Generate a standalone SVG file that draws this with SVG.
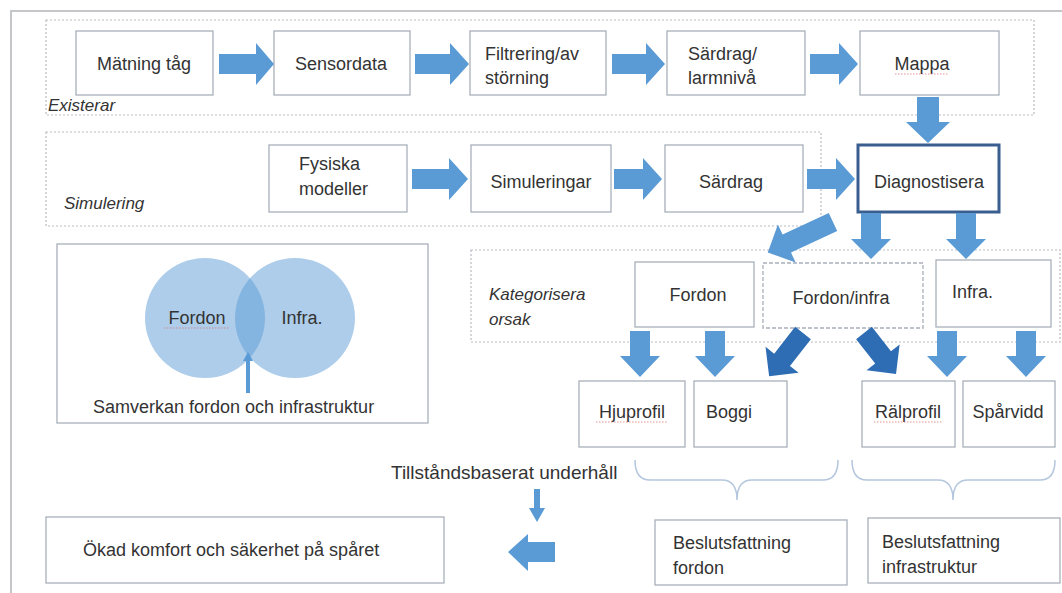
<svg xmlns="http://www.w3.org/2000/svg" width="1062" height="593" viewBox="0 0 1062 593">
<defs>
<style>
text{font-family:"Liberation Sans",Arial,sans-serif;font-size:18px;fill:#333}
.it{font-style:italic;font-size:17px}
.box{fill:#fff;stroke:#a9b0ba;stroke-width:1.3}
.dbox{fill:#fff;stroke:#a9b0ba;stroke-width:1.3;stroke-dasharray:4 2}
.grp{fill:none;stroke:#b8bcc2;stroke-width:1.2;stroke-dasharray:2 2}
.arr{fill:#5b9bd5}
.darr{fill:#2e6db4}
.brace{fill:none;stroke:#b4c6de;stroke-width:1.5}
.spell{stroke:#e06b6b;stroke-width:1.2;stroke-dasharray:1.5 1.5;opacity:.7}
.c{text-anchor:middle}
</style>
</defs>
<rect width="1062" height="593" fill="#fff"/>
<path d="M11,593 V11 H1062" fill="none" stroke="#c4c6c9" stroke-width="2"/>

<g id="groups">
<rect class="grp" x="46" y="20" width="988" height="95"/>
<text class="it" x="48" y="111">Existerar</text>
<rect class="grp" x="46" y="132" width="775" height="94"/>
<text class="it" x="64" y="209">Simulering</text>
<rect class="grp" x="471" y="250" width="589" height="92"/>
<text class="it" x="489" y="300">Kategorisera</text>
<text class="it" x="489" y="325">orsak</text>
</g>

<g id="n-matning"><rect class="box" x="76" y="31" width="137" height="64"/><text class="c" x="144" y="70">Mätning tåg</text></g>
<g id="n-sensordata"><rect class="box" x="274" y="31" width="136" height="64"/><text class="c" x="341" y="70">Sensordata</text></g>
<g id="n-filtrering"><rect class="box" x="470" y="31" width="136" height="64"/><text x="485" y="60">Filtrering/av</text><text x="485" y="84">störning</text></g>
<g id="n-sardrag1"><rect class="box" x="667" y="31" width="138" height="64"/><text x="688" y="60">Särdrag/</text><text x="688" y="84">larmnivå</text></g>
<g id="n-mappa"><rect class="box" x="860" y="31" width="139" height="64"/><text class="c" x="922" y="70">Mappa</text><line class="spell" x1="895" y1="74" x2="949" y2="74"/></g>

<g id="n-fysiska"><rect class="box" x="269" y="145" width="138" height="67"/><text x="299" y="170">Fysiska</text><text x="299" y="195">modeller</text></g>
<g id="n-simuleringar"><rect class="box" x="471" y="145" width="140" height="67"/><text class="c" x="541" y="188">Simuleringar</text></g>
<g id="n-sardrag2"><rect class="box" x="665" y="145" width="138" height="67"/><text class="c" x="731" y="188">Särdrag</text></g>
<g id="n-diagnostisera"><rect x="858" y="145" width="141" height="67" fill="#fff" stroke="#3a5e8f" stroke-width="3"/><text class="c" x="929" y="188">Diagnostisera</text></g>

<g id="n-venn">
<rect class="box" x="57" y="244" width="371" height="179"/>
<circle cx="205" cy="318" r="60" fill="#5b9bd5" fill-opacity="0.5"/>
<circle cx="295" cy="318" r="60" fill="#5b9bd5" fill-opacity="0.5"/>
<text class="c" x="197" y="324">Fordon</text>
<line class="spell" x1="164" y1="328" x2="230" y2="328"/>
<text class="c" x="302" y="324">Infra.</text>
<polygon class="arr" points="246,393 250,393 250,361 253,361 248,352 243,361 246,361"/>
<text x="93" y="413">Samverkan fordon och infrastruktur</text>
</g>

<g id="n-fordon"><rect class="box" x="635" y="262" width="119" height="65"/><text class="c" x="698" y="301">Fordon</text></g>
<g id="n-fordoninfra"><rect class="dbox" x="763" y="263" width="160" height="65"/><text class="c" x="841" y="304">Fordon/infra</text></g>
<g id="n-infra"><rect class="box" x="936" y="260" width="115" height="67"/><text x="952" y="298">Infra.</text></g>

<g id="n-hjuprofil"><rect class="box" x="579" y="381" width="106" height="66"/><text class="c" x="632" y="418">Hjuprofil</text><line class="spell" x1="596" y1="422" x2="668" y2="422"/></g>
<g id="n-boggi"><rect class="box" x="694" y="381" width="93" height="66"/><text x="706" y="418">Boggi</text></g>
<g id="n-ralprofil"><rect class="box" x="862" y="381" width="93" height="66"/><text class="c" x="908" y="418">Rälprofil</text><line class="spell" x1="874" y1="422" x2="942" y2="422"/></g>
<g id="n-sparvidd"><rect class="box" x="963" y="381" width="92" height="66"/><text class="c" x="1008" y="418">Spårvidd</text></g>

<g id="n-tillstand"><text x="391" y="479" style="font-size:19px">Tillståndsbaserat underhåll</text></g>
<g id="n-okad"><rect class="box" x="46" y="517" width="398" height="66"/><text x="83" y="556">Ökad komfort och säkerhet på spåret</text></g>
<g id="n-besl-fordon"><rect class="box" x="655" y="520" width="192" height="65"/><text x="673" y="549">Beslutsfattning</text><text x="673" y="574">fordon</text></g>
<g id="n-besl-infra"><rect class="box" x="868" y="518" width="192" height="65"/><text x="882" y="548">Beslutsfattning</text><text x="882" y="573">infrastruktur</text></g>

<g id="connectors">
<polygon class="arr" points="219,54 256,54 256,43 274,64 256,85 256,74 219,74"/>
<polygon class="arr" points="415,54 450,54 450,43 469,64 450,85 450,74 415,74"/>
<polygon class="arr" points="612,54 646,54 646,43 665,64 646,85 646,74 612,74"/>
<polygon class="arr" points="810,54 839,54 839,43 858,64 839,85 839,74 810,74"/>
<polygon class="arr" points="917,97 939,97 939,122 950,122 928,143 906,122 917,122"/>
<polygon class="arr" points="412,169 449,169 449,158 468,179 449,200 449,189 412,189"/>
<polygon class="arr" points="614,169 643,169 643,158 662,179 643,200 643,189 614,189"/>
<polygon class="arr" points="807,169 836,169 836,158 855,179 836,200 836,189 807,189"/>
<polygon class="arr" points="0,-10 51,-10 51,-21 72,0 51,21 51,10 0,10" transform="translate(833,222) rotate(155)"/>
<polygon class="arr" points="861,213 881,213 881,239 891,239 871,259 851,239 861,239"/>
<polygon class="arr" points="956,213 976,213 976,239 986,239 966,259 946,239 956,239"/>
<polygon class="arr" points="630,331 650,331 650,356 660,356 640,377 620,356 630,356"/>
<polygon class="arr" points="705,331 725,331 725,356 735,356 715,377 695,356 705,356"/>
<polygon class="darr" points="0,-10 34,-10 34,-21 55,0 34,21 34,10 0,10" transform="translate(803,333) rotate(128)"/>
<polygon class="darr" points="0,-10 31,-10 31,-21 52,0 31,21 31,10 0,10" transform="translate(864,333) rotate(52)"/>
<polygon class="arr" points="937,331 957,331 957,356 967,356 947,377 927,356 937,356"/>
<polygon class="arr" points="1016,331 1036,331 1036,356 1046,356 1026,377 1006,356 1016,356"/>
<path class="brace" d="M635,460 Q635,480 650,480 H722 Q737,480 737,500 Q737,480 752,480 H823 Q838,480 838,460"/>
<path class="brace" d="M852,460 Q852,480 867,480 H938 Q953,480 953,500 Q953,480 968,480 H1040 Q1055,480 1055,460"/>
<polygon class="arr" points="534,489 540,489 540,508 545,508 537,522 529,508 534,508"/>
<polygon class="arr" points="555,542 528,542 528,534 508,552 528,571 528,562 555,562"/>
</g>
</svg>
